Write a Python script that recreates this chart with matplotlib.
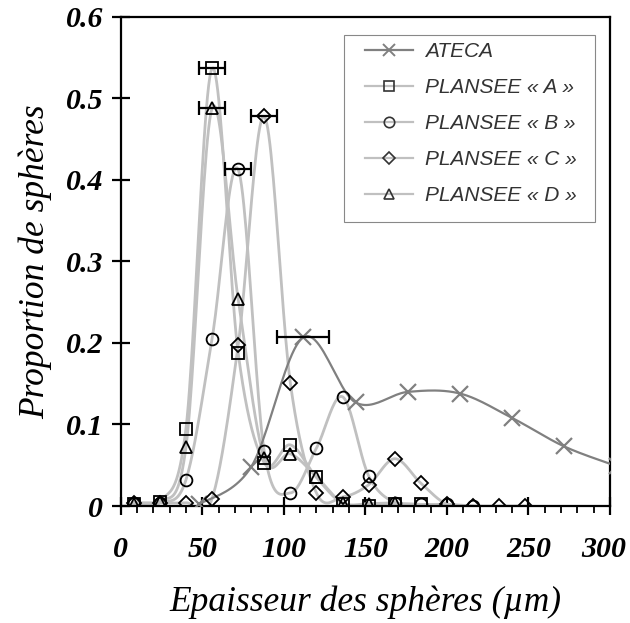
import numpy as np
import matplotlib
matplotlib.use("Agg")
import matplotlib.pyplot as plt
from matplotlib.ticker import MultipleLocator
from matplotlib.lines import Line2D
from matplotlib.patches import Rectangle
from matplotlib.transforms import ScaledTranslation

# ---------------- data ----------------
ateca_x = [48, 80, 112, 144, 176, 208, 240, 272, 304]
ateca_y = [0.002, 0.048, 0.207, 0.127, 0.140, 0.138, 0.108, 0.073, 0.049]

pl_x = [8, 24, 40, 56, 72, 88, 104, 120, 136, 152, 168, 184, 200, 216, 232, 248]
a_y = [0.003, 0.005, 0.095, 0.537, 0.188, 0.053, 0.075, 0.035, 0.003, 0.0, 0.003, 0.002]
b_y = [0.004, 0.004, 0.032, 0.205, 0.413, 0.067, 0.016, 0.071, 0.134, 0.037, 0.004, 0.002, 0.002, 0.0]
c_y = [0.004, 0.004, 0.004, 0.009, 0.197, 0.478, 0.151, 0.016, 0.011, 0.026, 0.058, 0.028, 0.002, 0.0, 0.0, 0.0]
d_y = [0.003, 0.005, 0.072, 0.488, 0.254, 0.059, 0.064, 0.036, 0.004, 0.003, 0.004]

labels = ["ATECA", "PLANSEE « A »", "PLANSEE « B »", "PLANSEE « C »", "PLANSEE « D »"]

# error bars (x position of peak, y, half width)
err_x = [56, 72, 88, 56, 112]
err_y = [0.537, 0.413, 0.478, 0.488, 0.207]
err_w = [8, 8, 8, 8, 16]

xticks = [0, 50, 100, 150, 200, 250, 300]
yticks = [0, 0.1, 0.2, 0.3, 0.4, 0.5, 0.6]


def smooth(x, y, n=24):
    P = np.column_stack([x, y]).astype(float)
    out = [P[0]]
    m = len(P)
    t = np.linspace(0, 1, n)[1:, None]
    for i in range(m - 1):
        p0 = P[i - 1] if i > 0 else P[i]
        p1 = P[i]
        p2 = P[i + 1]
        p3 = P[i + 2] if i + 2 < m else P[i + 1]
        c1 = p1 + (p2 - p0) / 6.0
        c2 = p2 - (p3 - p1) / 6.0
        seg = ((1 - t) ** 3) * p1 + 3 * ((1 - t) ** 2) * t * c1 + 3 * (1 - t) * t ** 2 * c2 + t ** 3 * p2
        out.extend(seg)
    out = np.array(out)
    return out[:, 0], out[:, 1]


W, H = 630, 623
fig = plt.figure(figsize=(W / 100, H / 100), dpi=100)
ax = fig.add_axes([0.1916, 0.1878, 0.7767, 0.785])

light = "#c0c0c0"
dark = "#808080"

# ATECA
sx, sy = smooth(ateca_x, ateca_y)
ax.plot(sx, sy, color=dark, lw=1.6, zorder=3)
ax.plot(ateca_x, ateca_y, linestyle="none", marker="x", color=dark, markersize=11,
        markeredgewidth=1.6, zorder=4)

series = [(a_y, "s"), (b_y, "o"), (c_y, "D"), (d_y, "^")]
for ys, m in series:
    xs = pl_x[:len(ys)]
    sx, sy = smooth(xs, ys)
    ax.plot(sx, sy, color=light, lw=2.0, zorder=2)
    ms = 7 if m == "D" else 8.5
    ax.plot(xs, ys, linestyle="none", marker=m, zorder=5,
            markerfacecolor="none", markeredgecolor="black", markeredgewidth=1.3, markersize=ms)

ax.errorbar(err_x, err_y, xerr=err_w, fmt="none", ecolor="black", elinewidth=1.6,
            capsize=4.8, capthick=1.6, zorder=6)

# legend
handles = [Line2D([], [], color=dark, lw=1.6, marker="x", markersize=9, markeredgewidth=1.4)]
for m in ["s", "o", "D", "^"]:
    handles.append(Line2D([], [], color=light, lw=1.6, marker=m, markerfacecolor="none",
                          markeredgecolor="#333333", markeredgewidth=1.2,
                          markersize=6 if m == "D" else 7.5))
# frame drawn as a rectangle in figure pixels: (344,35)-(595,222)
fig.patches.append(Rectangle((344 / W, 1 - 222 / H), (595 - 344) / W, (222 - 35) / H,
                             transform=fig.transFigure, facecolor="white",
                             edgecolor="#888888", lw=0.8, zorder=1))
leg = fig.legend(handles, labels, loc="upper left",
                 bbox_to_anchor=(365 / W, 1 - 42 / H), bbox_transform=fig.transFigure,
                 frameon=False,
                 prop=dict(family="Liberation Sans", style="italic", size=15),
                 handlelength=2.3, handletextpad=0.58, labelspacing=0.82, borderpad=0,
                 borderaxespad=0)
for t in leg.get_texts():
    t.set_color("#333333")

ax.set_xlim(0, 300)
ax.set_ylim(0, 0.6)
ax.set_xticks(xticks)
ax.set_yticks(yticks)
ax.xaxis.set_minor_locator(MultipleLocator(10))
ax.set_xticklabels([str(v) for v in xticks])
ax.set_yticklabels(["0"] + [f"{v:.1f}" for v in yticks[1:]])

for s in ax.spines.values():
    s.set_linewidth(1.6)
    s.set_color("black")

ax.tick_params(axis="both", which="major", direction="inout", length=13, width=1.6,
               labelsize=21.5)
ax.tick_params(axis="y", which="major", pad=6)
ax.tick_params(axis="x", which="minor", direction="out", length=5, width=1.3)
ax.tick_params(axis="x", which="major", pad=15)

for lab in ax.get_xticklabels() + ax.get_yticklabels():
    lab.set_family("Liberation Serif")
    lab.set_style("italic")
    lab.set_weight("bold")

# keep the last x tick label inside the picture
last = ax.get_xticklabels()[-1]
last.set_transform(last.get_transform() + ScaledTranslation(-6 / 100, 0, fig.dpi_scale_trans))

ax.set_xlabel("Epaisseur des sphères (µm)", family="Liberation Serif", style="italic",
              fontsize=25.5, labelpad=16)
ax.set_ylabel("Proportion de sphères", family="Liberation Serif", style="italic",
              fontsize=25.5, labelpad=10)

fig.savefig("out.png", dpi=100)
